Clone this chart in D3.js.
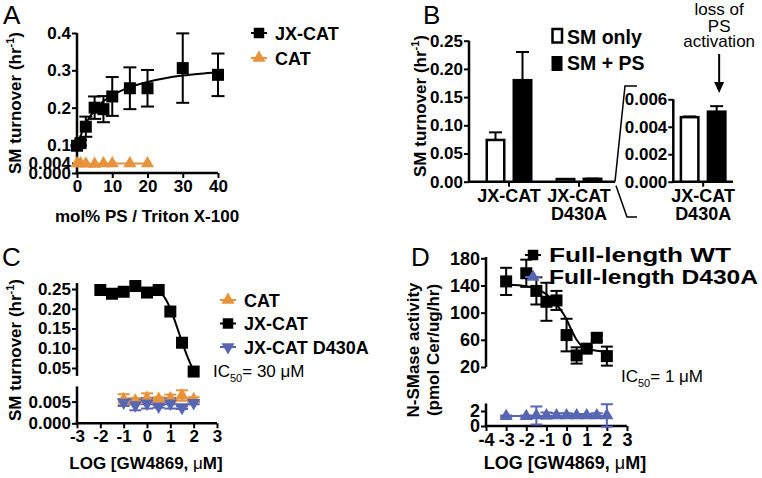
<!DOCTYPE html>
<html><head><meta charset="utf-8">
<script src="https://cdn.jsdelivr.net/npm/d3@7"></script>
<style>body{margin:0;background:#fff}svg{display:block}</style>
</head><body><svg id="chart" width="762" height="478"></svg>
<script>
// ---------- DATA ----------
// Panel A
const psMolPct = [0, 1, 2.5, 5, 7.5, 10, 15, 20, 30, 40];
const jxcatA = [0.096, 0.105, 0.149, 0.200, 0.196, 0.230, 0.252, 0.252, 0.306, 0.288];
const jxcatAErr = [0.004, 0.008, 0.027, 0.030, 0.035, 0.052, 0.056, 0.049, 0.093, 0.057];
const catAX = [0, 1, 2.5, 5, 7.5, 10, 15, 20];
const catA = [0.0038, 0.0038, 0.0037, 0.0036, 0.0038, 0.0038, 0.0038, 0.0038];
const fitAX = [0, 1, 2, 3, 5, 7.5, 10, 15, 20, 25, 30, 35, 40];
const fitAY = [0.095, 0.124, 0.147, 0.166, 0.193, 0.217, 0.233, 0.255, 0.269, 0.279, 0.286, 0.291, 0.295];
const ticksAY = [0, 0.004, 0.1, 0.2, 0.3, 0.4];
const tickLabelsAY = ["0.000", "0.004", "0.1", "0.2", "0.3", "0.4"];
const ticksAX = [0, 10, 20, 30, 40];

// Panel B
const groupsB = ["JX-CAT", "JX-CAT D430A"];
const seriesB = ["SM only", "SM + PS"];
const smOnly = [0.074, 0.0047];
const smOnlyErr = [0.0135, 0.00005];
const smPS = [0.180, 0.0051];
const smPSErr = [0.050, 0.0004];
const ticksBY = [0, 0.05, 0.10, 0.15, 0.20, 0.25];
const ticksBInsetY = [0, 0.002, 0.004, 0.006];

// Panel C
const logGwC = [-2, -1.5, -1, -0.5, 0, 0.5, 1, 1.5, 2];
const jxcatC = [0.2475, 0.238, 0.243, 0.2575, 0.241, 0.2475, 0.193, 0.114, 0.041];
const fitCX = [0.3, 0.5, 0.75, 1, 1.25, 1.5, 1.75, 2];
const fitCY = [0.247, 0.244, 0.229, 0.200, 0.160, 0.116, 0.076, 0.042];
const logGwCLow = [-1, -0.5, 0, 0.5, 1, 1.5, 2];
const catC = [0.0055, 0.0052, 0.0058, 0.0056, 0.0057, 0.0064, 0.0055];
const catCErr = [0.0012, 0.0006, 0.0011, 0.0004, 0.0009, 0.0012, 0.0005];
const d430aC = [0.0048, 0.0042, 0.0046, 0.0039, 0.0046, 0.0036, 0.0047];
const d430aCErr = [0.0008, 0.0012, 0.0012, 0.0003, 0.0012, 0.0003, 0.0003];
const ticksCX = [-3, -2, -1, 0, 1, 2, 3];
const ticksCYUp = [0.05, 0.10, 0.15, 0.20, 0.25];
const ticksCYLow = [0, 0.005];

// Panel D
const logGwD = [-3, -2, -1.5, -1, -0.5, 0, 0.5, 1, 1.5, 2];
const wtD = [146, 158, 132, 116, 118, 67, 37, 47, 63, 36];
const wtDErr = [20, 20, 20, 28, 14, 24, 12, 3, 5, 14];
const fitDX = [-3, -2, -1.5, -1, -0.5, 0, 0.25, 0.5, 0.75, 1, 1.5, 2];
const fitDY = [141, 139, 135, 127, 112, 90, 74, 60, 51, 47, 44, 43];
const d430aD = [1.3, 1.3, 1.4, 1.4, 1.4, 1.4, 1.4, 1.4, 1.4, 1.4];
const d430aDErr = [0.1, 0.1, 1.2, 0.4, 0.3, 0.3, 0.2, 0.2, 0.3, 1.5];
const ticksDX = [-4, -3, -2, -1, 0, 1, 2, 3];
const ticksDYUp = [20, 60, 100, 140, 180];
const ticksDYLow = [0, 2];

// ---------- HELPERS ----------
const svg = d3.select("#chart");
const F = '"Liberation Sans", Arial, Helvetica, sans-serif';
const ORANGE = "#E8923C", BLUE = "#5866B2";
const intFmt = d => String(d);

function txt(x, y, s, o = {}) {
  const t = svg.append("text").attr("x", x).attr("y", y).text(s)
    .attr("font-family", F).attr("font-size", o.size || 17)
    .attr("font-weight", o.weight || "bold")
    .attr("text-anchor", o.anchor || "start").attr("fill", o.fill || "#000");
  if (o.len) t.attr("textLength", o.len).attr("lengthAdjust", "spacingAndGlyphs");
  return t;
}
function styleAxis(g, size) {
  g.select(".domain").remove();
  g.selectAll(".tick line").attr("stroke", "#000").attr("stroke-width", 2);
  g.selectAll(".tick text").attr("font-family", F).attr("font-weight", "bold")
    .attr("font-size", size || 17).attr("fill", "#000");
}
function yAxis(scale, x, ticks, fmt, lo, hi, size) {
  const g = svg.append("g").attr("transform", `translate(${x},0)`)
    .call(d3.axisLeft(scale).tickValues(ticks).tickFormat(fmt).tickSize(5).tickPadding(1));
  styleAxis(g, size);
  g.append("line").attr("y1", scale(lo)).attr("y2", scale(hi))
    .attr("stroke", "#000").attr("stroke-width", 2.5);
  return g;
}
function xAxis(scale, y, ticks, fmt, lo, hi, size) {
  const g = svg.append("g").attr("transform", `translate(0,${y})`)
    .call(d3.axisBottom(scale).tickValues(ticks).tickFormat(fmt).tickSize(5).tickPadding(2));
  styleAxis(g, size);
  g.append("line").attr("x1", scale(lo) - 1.2).attr("x2", scale(hi))
    .attr("stroke", "#000").attr("stroke-width", 2.5);
  return g;
}
function errBars(xs, ys, es, xS, yS, color, cap, upOnly) {
  const g = svg.append("g").attr("stroke", color).attr("stroke-width", 2).attr("fill", "none");
  const d = xs.map((x, i) => ({ x: xS(x), lo: upOnly ? yS(ys[i]) : yS(ys[i] - es[i]), hi: yS(ys[i] + es[i]) }));
  g.selectAll(".v").data(d).join("line").attr("x1", p => p.x).attr("x2", p => p.x)
    .attr("y1", p => p.lo).attr("y2", p => p.hi);
  g.selectAll(".t").data(d).join("line").attr("x1", p => p.x - cap / 2).attr("x2", p => p.x + cap / 2)
    .attr("y1", p => p.hi).attr("y2", p => p.hi);
  if (!upOnly) g.selectAll(".b").data(d).join("line").attr("x1", p => p.x - cap / 2).attr("x2", p => p.x + cap / 2)
    .attr("y1", p => p.lo).attr("y2", p => p.lo);
}
function markers(xs, ys, xS, yS, type, color, size) {
  const sym = type === "square" ? d3.symbolSquare : d3.symbolTriangle;
  svg.append("g").selectAll("path").data(xs.map((x, i) => [x, ys[i]])).join("path")
    .attr("d", d3.symbol().type(sym).size(size))
    .attr("transform", d => `translate(${xS(d[0])},${yS(d[1])})${type === "down" ? " rotate(180)" : ""}`)
    .attr("fill", color);
}
function curve(xs, ys, xS, yS, color, w) {
  svg.append("path").datum(xs.map((x, i) => [x, ys[i]]))
    .attr("d", d3.line().x(d => xS(d[0])).y(d => yS(d[1])).curve(d3.curveMonotoneX))
    .attr("fill", "none").attr("stroke", color).attr("stroke-width", w);
}
function legendItem(x, y, type, color, label, size, o = {}) {
  svg.append("line").attr("x1", x - 8).attr("x2", x + 8).attr("y1", y).attr("y2", y)
    .attr("stroke", color).attr("stroke-width", 2);
  svg.append("path").attr("d", d3.symbol().type(type === "square" ? d3.symbolSquare : d3.symbolTriangle).size(size))
    .attr("transform", `translate(${x},${y})${type === "down" ? " rotate(180)" : ""}`).attr("fill", color);
  txt(x + 16, y + 6.5, label, Object.assign({ size: 18 }, o));
}
function yTitle(x, y) {
  return svg.append("text").attr("transform", `translate(${x},${y}) rotate(-90)`)
    .attr("font-family", F).attr("font-weight", "bold").attr("font-size", 17).attr("text-anchor", "middle");
}
function turnoverTitle(x, y) {
  const t = yTitle(x, y);
  t.append("tspan").text("SM turnover (hr");
  t.append("tspan").text("-1").attr("font-size", 11).attr("dy", -7);
  t.append("tspan").text(")").attr("dy", 7);
}
function gwTitle(x, y, size) {
  const t = svg.append("text").attr("x", x).attr("y", y).attr("text-anchor", "middle")
    .attr("font-family", F).attr("font-weight", "bold").attr("font-size", size);
  t.append("tspan").text("LOG [GW4869, ");
  t.append("tspan").text("μ").attr("font-weight", "normal");
  t.append("tspan").text("M]");
}
function ic50(x, y, val) {
  const t = svg.append("text").attr("x", x).attr("y", y)
    .attr("font-family", F).attr("font-size", 17).attr("fill", "#000");
  t.append("tspan").text("IC");
  t.append("tspan").text("50").attr("font-size", 11).attr("dy", 5);
  t.append("tspan").text("= " + val + " μM").attr("dy", -5);
}

// ---------- PANEL A ----------
txt(3, 23.5, "A", { size: 26, weight: "normal" });
const xA = d3.scaleLinear().domain([0, 40]).range([77, 218]);
const yA = d3.scaleLinear().domain([0, 0.004, 0.1, 0.4]).range([173, 163, 145, 33]);
yAxis(yA, 77, ticksAY, (d, i) => tickLabelsAY[i], 0, 0.4);
xAxis(xA, 173, ticksAX, intFmt, 0, 40);
curve(fitAX, fitAY, xA, yA, "#000", 2);
errBars(psMolPct, jxcatA, jxcatAErr, xA, yA, "#000", 13, false);
markers(psMolPct, jxcatA, xA, yA, "square", "#000", 144);
curve(catAX, catA, xA, yA, ORANGE, 2);
markers(catAX, catA, xA, yA, "up", ORANGE, 75);
turnoverTitle(21, 103);
txt(147, 222, "mol% PS / Triton X-100", { anchor: "middle" });
legendItem(259, 33, "square", "#000", "JX-CAT", 110);
legendItem(259, 58, "up", ORANGE, "CAT", 75);

// ---------- PANEL B ----------
txt(423, 23.5, "B", { size: 26, weight: "normal" });
const xB = d3.scaleBand().domain(groupsB).range([474, 614]);
const xB1 = d3.scaleBand().domain(seriesB).range([0, 47]).paddingInner(0.26);
const yB = d3.scaleLinear().domain([0, 0.25]).range([181.7, 40.7]);
yAxis(yB, 469, ticksBY, d3.format(".2f"), 0, 0.25);
svg.append("line").attr("x1", 468).attr("x2", 615).attr("y1", yB(0)).attr("y2", yB(0)).attr("stroke", "#000").attr("stroke-width", 2.5);
groupsB.forEach(g => svg.append("line").attr("x1", xB(g) + xB.bandwidth() / 2).attr("x2", xB(g) + xB.bandwidth() / 2)
  .attr("y1", yB(0)).attr("y2", yB(0) + 5).attr("stroke", "#000").attr("stroke-width", 2));
function drawBars(xS, yS, groups) {
  const vals = [smOnly, smPS], errs = [smOnlyErr, smPSErr];
  seriesB.forEach((s, si) => {
    const gi = groups.map(g => groupsB.indexOf(g));
    const xs = gi.map(i => xS(groupsB[i]) + xS.bandwidth() / 2 - 23.5 + xB1(s));
    svg.append("g").selectAll("rect").data(gi).join("rect")
      .attr("x", (d, k) => xs[k] + 1.25).attr("width", xB1.bandwidth() - 2.5)
      .attr("y", d => yS(vals[si][d])).attr("height", d => yS(0) - yS(vals[si][d]))
      .attr("fill", si === 0 ? "#fff" : "#000").attr("stroke", "#000").attr("stroke-width", 2.5);
    const cxs = xs.map(x => x + xB1.bandwidth() / 2);
    const g = svg.append("g").attr("stroke", "#000").attr("stroke-width", 2);
    gi.forEach((d, k) => {
      const top = yS(vals[si][d] + errs[si][d]);
      g.append("line").attr("x1", cxs[k]).attr("x2", cxs[k]).attr("y1", yS(vals[si][d])).attr("y2", top);
      g.append("line").attr("x1", cxs[k] - 6.5).attr("x2", cxs[k] + 6.5).attr("y1", top).attr("y2", top);
    });
  });
}
drawBars(xB, yB, groupsB);
groupsB.forEach(g => {
  const cx = xB(g) + xB.bandwidth() / 2;
  g.split(" ").forEach((p, i) => txt(cx, 201.7 + i * 18.5, p, { anchor: "middle", size: 18 }));
});
turnoverTitle(426, 106);
// legend B
svg.append("rect").attr("x", 552.5).attr("y", 29).attr("width", 9.5).attr("height", 13.5).attr("fill", "#fff").attr("stroke", "#000").attr("stroke-width", 2.5);
svg.append("rect").attr("x", 551.5).attr("y", 56).attr("width", 11).attr("height", 15).attr("fill", "#000");
txt(567, 43.5, seriesB[0], { size: 19.5 });
txt(567, 70, seriesB[1], { size: 19.5 });
// inset
const xBi = d3.scaleBand().domain([groupsB[1]]).range([673.3, 733]);
const yBi = d3.scaleLinear().domain([0, 0.006]).range([181.7, 99.3]);
yAxis(yBi, 673.3, ticksBInsetY, d3.format(".3f"), 0, 0.006);
svg.append("line").attr("x1", 672).attr("x2", 733).attr("y1", yBi(0)).attr("y2", yBi(0)).attr("stroke", "#000").attr("stroke-width", 2.5);
const xBiC = xBi(groupsB[1]) + xBi.bandwidth() / 2;
svg.append("line").attr("x1", xBiC).attr("x2", xBiC).attr("y1", yBi(0)).attr("y2", yBi(0) + 5).attr("stroke", "#000").attr("stroke-width", 2);
drawBars(xBi, yBi, [groupsB[1]]);
txt(xBiC, 201.7, "JX-CAT", { anchor: "middle", size: 18 });
txt(xBiC, 220.2, "D430A", { anchor: "middle", size: 18 });
// bracket
svg.append("path").attr("d", d3.line()([[615, yB(0)], [625, 86], [637, 86]])).attr("fill", "none").attr("stroke", "#000").attr("stroke-width", 1.5);
svg.append("path").attr("d", d3.line()([[616, yB(0) + 4], [627, 217], [637, 217]])).attr("fill", "none").attr("stroke", "#000").attr("stroke-width", 1.5);
// annotation
const arrowX = xBiC + 16;
txt(arrowX, 15, "loss of", { anchor: "middle", weight: "normal" });
txt(arrowX, 31.5, "PS", { anchor: "middle", weight: "normal" });
txt(arrowX, 47, "activation", { anchor: "middle", weight: "normal" });
svg.append("line").attr("x1", arrowX).attr("x2", arrowX).attr("y1", 54).attr("y2", 84).attr("stroke", "#000").attr("stroke-width", 2);
svg.append("path").attr("d", d3.line()([[arrowX - 5, 82], [arrowX + 5, 82], [arrowX, 93]])).attr("fill", "#000");

// ---------- PANEL C ----------
txt(2, 266, "C", { size: 26, weight: "normal" });
const xC = d3.scaleLinear().domain([-3, 3]).range([77, 217]);
const yCUp = d3.scaleLinear().domain([0.05, 0.25]).range([368, 289]);
const yCLow = d3.scaleLinear().domain([0, 0.005]).range([423.3, 401.6]);
yAxis(yCUp, 77, ticksCYUp, d3.format(".2f"), 0.03, 0.265);
yAxis(yCLow, 77, ticksCYLow, d3.format(".3f"), 0, 0.0085);
xAxis(xC, 423.3, ticksCX, intFmt, -3, 3);
curve(fitCX, fitCY, xC, yCUp, "#000", 2);
markers(logGwC, jxcatC, xC, yCUp, "square", "#000", 144);
curve([-1, 2], [0.0057, 0.0057], xC, yCLow, ORANGE, 2);
curve([-1, 2], [0.0044, 0.0044], xC, yCLow, BLUE, 2);
errBars(logGwCLow, catC, catCErr, xC, yCLow, ORANGE, 12, false);
errBars(logGwCLow, d430aC, d430aCErr, xC, yCLow, BLUE, 12, false);
markers(logGwCLow, catC, xC, yCLow, "up", ORANGE, 75);
markers(logGwCLow, d430aC, xC, yCLow, "down", BLUE, 75);
turnoverTitle(21, 350);
gwTitle(146, 469, 17);
legendItem(228, 300, "up", ORANGE, "CAT", 75);
legendItem(228, 323.5, "square", "#000", "JX-CAT", 110);
legendItem(228, 347, "down", BLUE, "JX-CAT D430A", 75);
ic50(213, 377, "30");

// ---------- PANEL D ----------
txt(411, 266, "D", { size: 26, weight: "normal" });
const xD = d3.scaleLinear().domain([-4, 3]).range([486, 627]);
const yDUp = d3.scaleLinear().domain([20, 180]).range([367, 258.3]);
const yDLow = d3.scaleLinear().domain([0, 2]).range([426, 411]);
yAxis(yDUp, 486, ticksDYUp, intFmt, 20, 182, 18);
yAxis(yDLow, 486, ticksDYLow, intFmt, 0, 3, 18);
xAxis(xD, 426, ticksDX, intFmt, -4, 3, 18);
curve(fitDX, fitDY, xD, yDUp, "#000", 2);
errBars(logGwD, wtD, wtDErr, xD, yDUp, "#000", 12, false);
markers(logGwD, wtD, xD, yDUp, "square", "#000", 144);
curve([-3, 2], [1.35, 1.35], xD, yDLow, BLUE, 2);
errBars(logGwD, d430aD, d430aDErr, xD, yDLow, BLUE, 12, false);
markers(logGwD, d430aD, xD, yDLow, "up", BLUE, 75);
yTitle(419, 350).text("N-SMase activity");
yTitle(439, 350).text("(pmol Cer/ug/hr)");
gwTitle(565, 469, 18);
legendItem(533, 255, "square", "#000", "Full-length WT", 110, { size: 20, len: 182 });
legendItem(533, 277, "up", BLUE, "Full-length D430A", 75, { size: 20, len: 209 });
ic50(621, 382, "1");
</script></body></html>
